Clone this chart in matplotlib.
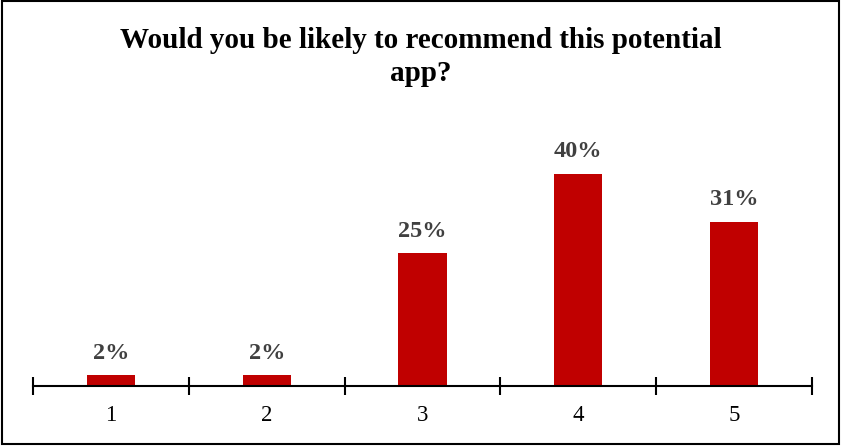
import matplotlib.pyplot as plt
from matplotlib.patches import Rectangle
from matplotlib.ticker import FixedLocator

categories = ["1", "2", "3", "4", "5"]
shares = [2, 2, 25, 40, 31]
title = "Would you be likely to recommend this potential\napp?"

plt.rcParams['font.family'] = ['Liberation Serif', 'DejaVu Serif']

fig = plt.figure(figsize=(8.41, 4.46), dpi=100)
ax = fig.add_axes([33 / 841, 1 - 386 / 446, (812 - 33) / 841, (386 - 147.5) / 446])

x = list(range(len(categories)))
ax.bar(x, shares, width=0.31, color="#C00000", zorder=2)
for xi, v in zip(x, shares):
    ax.annotate(f"{v}%", (xi, v), xytext=(0, 8.5), textcoords="offset points",
                ha="center", va="bottom", fontsize=17.5, fontweight="bold",
                color="#404040")

ax.set_xlim(-0.5, len(categories) - 0.5)
ax.set_ylim(0, 45)
ax.set_xticks(x)
ax.set_xticklabels(categories, fontsize=16.5)
ax.tick_params(axis="x", which="major", length=0, pad=14)
ax.xaxis.set_minor_locator(FixedLocator([i - 0.5 for i in range(len(categories) + 1)]))
ax.tick_params(axis="x", which="minor", direction="inout", length=13, width=1.5, color="black")
ax.set_yticks([])
for side in ("top", "right", "left"):
    ax.spines[side].set_visible(False)
ax.spines["bottom"].set_linewidth(1.5)

fig.text(0.5, 1 - 57 / 446, title, ha="center", va="center", fontsize=21,
         fontweight="bold", linespacing=1.3)

fig.patches.append(Rectangle((0.002, 0.004), 0.996, 0.993, transform=fig.transFigure,
                             fill=False, edgecolor="black", linewidth=1.5))

fig.savefig("out.png", dpi=100)
